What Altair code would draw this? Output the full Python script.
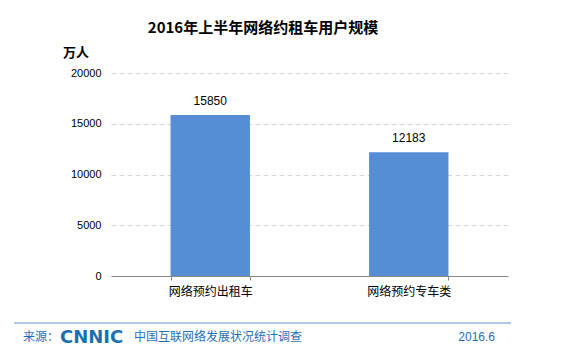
import altair as alt
import pandas as pd

categories = ["网络预约出租车", "网络预约专车类"]
values = [15850, 12183]
y_ticks = [0, 5000, 10000, 15000, 20000]

title_text = "2016年上半年网络约租车用户规模"
unit_text = "万人"
source_label = "来源："
logo_text = "CNNIC"
source_text = "中国互联网络发展状况统计调查"
date_text = "2016.6"

df = pd.DataFrame({"cat": categories, "val": values})

CJK = "Noto Sans CJK SC"
NUM = "Liberation Sans"
BLUE = "#1f6fb5"

base = alt.Chart(df)

x_enc = alt.X("cat:N", sort=categories, title=None,
              scale=alt.Scale(paddingInner=0.6, paddingOuter=0.3),
              axis=alt.Axis(labelAngle=0, labelFont=CJK, labelFontSize=12,
                            labelColor="#000000", labelPadding=6,
                            domainColor="#888888", ticks=True, tickColor="#888888",
                            tickSize=4, bandPosition=0, tickBand="extent"))
y_enc = alt.Y("val:Q", title=None,
              scale=alt.Scale(domain=[0, 20000]),
              axis=alt.Axis(values=y_ticks, labelFont=NUM, labelFontSize=11,
                            labelColor="#000000", labelPadding=10, domain=False,
                            ticks=False, gridDash=[5, 3], gridColor="#d6d6d6",
                            format="d"))

bars = base.mark_bar(color="#558ed5").encode(x=x_enc, y=y_enc)
labels = base.mark_text(dy=-14, font=NUM, fontSize=12, color="#000000").encode(
    x=alt.X("cat:N", sort=categories), y="val:Q", text="val:Q")

def txt(t, x, y, **kw):
    return alt.Chart(pd.DataFrame({"t": [t]})).mark_text(clip=False, **kw).encode(
        x=alt.value(x), y=alt.value(y), text="t:N")

title = txt(title_text, 152, -45, font=CJK, fontSize=15, fontWeight="bold", color="#000000")
unit = txt(unit_text, -35, -20, font=CJK, fontSize=13, fontWeight="bold", color="#000000")
src = txt(source_label, -88, 264, align="left", font=CJK, fontSize=12, color=BLUE)
logo = txt(logo_text, -51, 265, align="left", font="DejaVu Sans", fontSize=18,
           fontWeight="bold", color="#1a6fb0")
src2 = txt(source_text, 23, 264, align="left", font=CJK, fontSize=12, color=BLUE)
date = txt(date_text, 384, 264, align="right", font=NUM, fontSize=12, color=BLUE)
line = alt.Chart(pd.DataFrame({"a": [0]})).mark_rule(color="#5b8fd0", strokeWidth=1, clip=False).encode(
    x=alt.value(-97), x2=alt.value(400), y=alt.value(250))

chart = alt.layer(bars, labels, title, unit, line, src, logo, src2, date).properties(
    width=397, height=203,
    autosize=alt.AutoSizeParams(type="none"),
    padding={"left": 103, "top": 65, "right": 60, "bottom": 70},
).configure_view(stroke=None)

chart.save("out.html", embed_options={"renderer": "svg", "actions": False})
